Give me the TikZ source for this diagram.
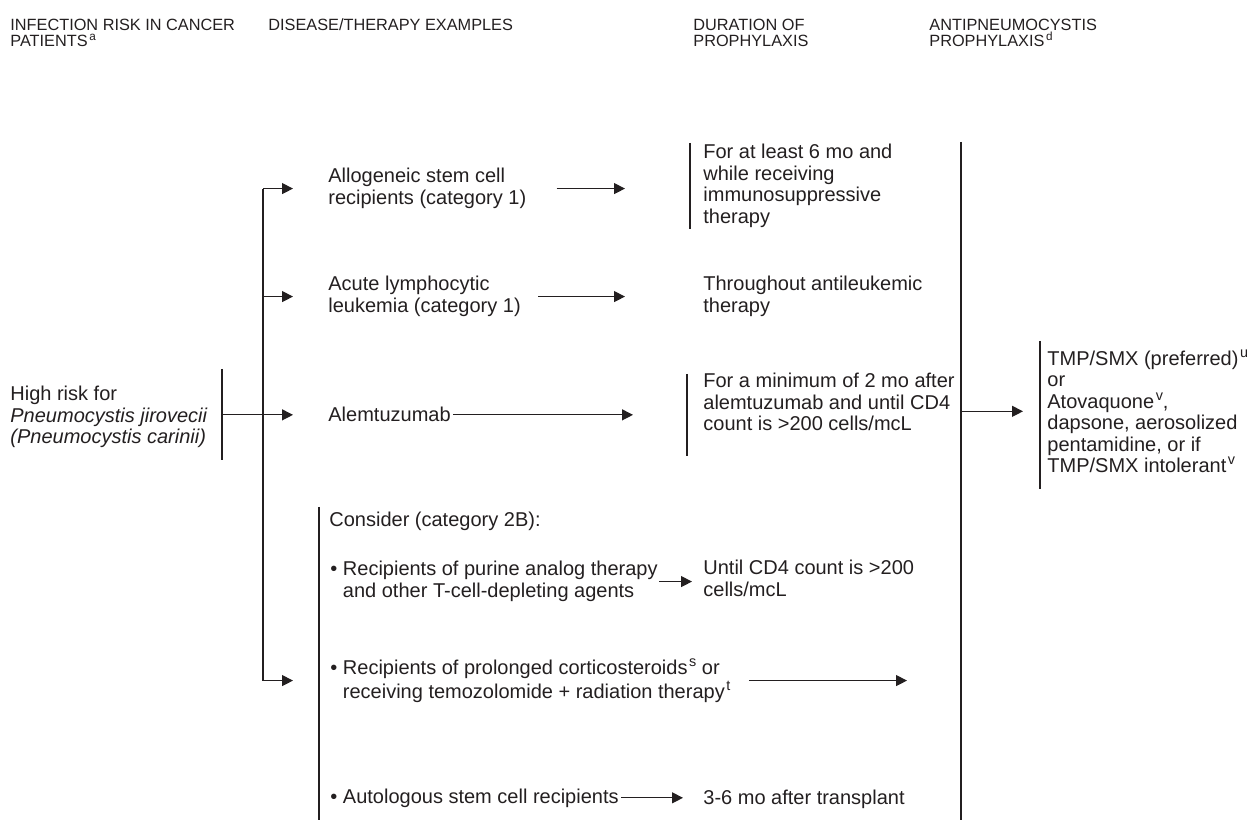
\documentclass[tikz,border=0pt]{standalone}
\usepackage{fontspec}
\setmainfont{Liberation Sans}
\usepackage{tikz}
\usetikzlibrary{arrows.meta,calc}

\definecolor{ink}{HTML}{231F20}
\newcommand{\supmark}[1]{\kern0.8pt\raisebox{0.42em}{\scalebox{0.72}{#1}}}

\begin{document}
\begin{tikzpicture}[
  x=0.5pt, y=-0.5pt,
  head/.style={anchor=base west, inner sep=0, align=left, text=ink, font=\fontsize{8.15}{8}\selectfont},
  txt/.style={anchor=base west, inner sep=0, align=left, text=ink, font=\fontsize{10}{10.75}\selectfont},
  bar/.style={draw=ink, line width=0.6pt},
  arr/.style={draw=ink, line width=0.6pt, -{Triangle[length=5.5pt,width=5.5pt]}}
]
\useasboundingbox (0,0) rectangle (1254,823);

% Headings (placed at the baseline of their last line)
\node[head] (hrisk) at (10,47) {INFECTION RISK IN CANCER\\PATIENTS\supmark{a}};
\node[head] (hdis) at (268,31) {DISEASE/THERAPY EXAMPLES};
\node[head] (hdur) at (693,47) {DURATION OF\\PROPHYLAXIS};
\node[head] (hpro) at (929,47) {ANTIPNEUMOCYSTIS\\PROPHYLAXIS\supmark{d}};

% Risk group
\node[txt] (risk) at (10,444) {High risk for\\\textit{Pneumocystis jirovecii}\\\textit{(Pneumocystis carinii)}};

% Disease / therapy examples
\node[txt] (allo) at (328,204.5) {Allogeneic stem cell\\recipients (category 1)};
\node[txt] (acute) at (328,312.5) {Acute lymphocytic\\leukemia (category 1)};
\node[txt] (alem) at (328,422) {Alemtuzumab};
\node[txt] (consider) at (329,527) {Consider (category 2B):};
\node[txt] (purine) at (330,597.5) {\textbullet\ Recipients of purine analog therapy\\\phantom{\textbullet\ }and other T-cell-depleting agents};
\node[txt] (cortico) at (330,698.5) {\textbullet\ Recipients of prolonged corticosteroids\supmark{s}\ or\\\phantom{\textbullet\ }receiving temozolomide + radiation therapy\supmark{t}};
\node[txt] (auto) at (330,803) {\textbullet\ Autologous stem cell recipients};

% Duration
\node[txt] (dur1) at (703,223.5) {For at least 6 mo and\\while receiving\\immunosuppressive\\therapy};
\node[txt] (dur2) at (703,312.5) {Throughout antileukemic\\therapy};
\node[txt] (dur3) at (703,431) {For a minimum of 2 mo after\\alemtuzumab and until CD4\\count is >200 cells/mcL};
\node[txt] (dur4) at (703,596.5) {Until CD4 count is >200\\cells/mcL};
\node[txt] (dur5) at (703,804) {3-6 mo after transplant};

% Prophylaxis
\node[txt] (drug) at (1047,473) {TMP/SMX (preferred)\supmark{u}\\or\\Atovaquone\supmark{v},\\dapsone, aerosolized\\pentamidine, or if\\TMP/SMX intolerant\supmark{v}};

% Bars
\coordinate (riskbar) at (222,0);
\coordinate (trunk) at (263,0);
\coordinate (bigbar) at (961,142);
\draw[bar] (222,369) -- (222,460);
\draw[bar] (690,143) -- (690,229);
\draw[bar] (687,374) -- (687,456);
\draw[bar] (319,507) -- (319,820);
\draw[bar] (bigbar) -- (961,820);
\draw[bar] (1040,341) -- (1040,489);

% Branches
\draw[bar] (trunk |- allo) -- (trunk |- cortico);
\draw[arr] (trunk |- allo) -- ++(30,0);
\draw[arr] (trunk |- acute) -- ++(30,0);
\draw[arr] (trunk |- cortico) -- ++(30,0);
\draw[arr] (riskbar |- alem) -- ($(alem.west)+(-35,0)$);

% Arrows to duration
\draw[arr] ($(allo.east)+(30,0)$) -- ($(allo.east -| dur1.west)+(-78,0)$);
\draw[arr] ($(acute.east)+(17,0)$) -- ($(acute.east -| dur2.west)+(-78,0)$);
\draw[arr] ($(alem.east)+(2,0)$) -- ($(alem.east -| dur3.west)+(-70,0)$);
\draw[arr] ($(purine.east)+(1,0)$) -- ($(purine.east -| dur4.west)+(-11,0)$);
\draw[arr] ($(cortico.east)+(18,0)$) -- ($(cortico.east -| bigbar)+(-54,0)$);
\draw[arr] ($(auto.east)+(2,0)$) -- ($(auto.east -| dur5.west)+(-20,0)$);
\draw[arr] (drug.west -| bigbar) -- ($(drug.west)+(-24,0)$);

\end{tikzpicture}
\end{document}
